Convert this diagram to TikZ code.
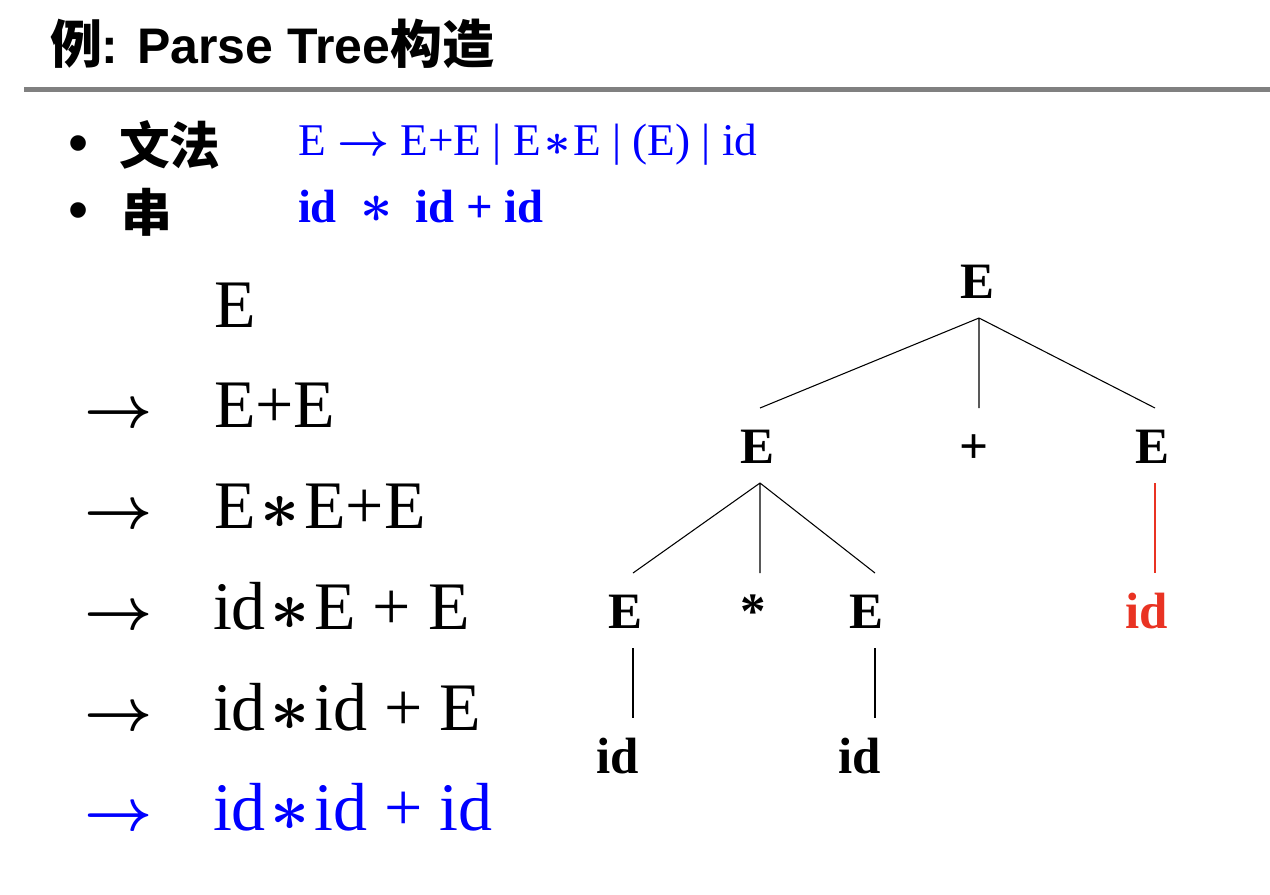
\documentclass[tikz,border=0pt]{standalone}
\usepackage{fix-cm}
\usepackage{fontspec}
\setmainfont{Liberation Serif}
\newfontfamily\cjkfont{Noto Sans CJK SC}
\newfontfamily\titlefont{Liberation Sans}
\usepackage{xcolor}
\usepackage{tikz}

\definecolor{gblue}{RGB}{0,0,255}
\definecolor{idred}{RGB}{233,51,35}
\definecolor{rulegray}{RGB}{128,128,128}

\newcommand{\mul}{\hspace{0.07em}{\boldmath$\ast$}\hspace{0.07em}}
\newcommand{\derives}{{\boldmath$\rightarrow$}}

\begin{document}
\begin{tikzpicture}[x=0.75pt, y=-0.75pt,
  every node/.style={inner sep=0pt, outer sep=0pt},
  bigrow/.style={anchor=base west, font=\fontsize{51}{60}\selectfont},
  arr/.style={anchor=base west, font=\fontsize{44.5}{52}\selectfont},
  gram/.style={anchor=base west, text=gblue, font=\fontsize{34}{40}\selectfont},
  cjkhead/.style={anchor=base west, font=\cjkfont\bfseries\fontsize{38}{44}\selectfont},
  tnode/.style={minimum height=56.25pt, text height=26.25pt, text depth=0pt,
    font=\fontsize{38.25}{44}\selectfont\bfseries},
  tx/.style={execute at begin node={\hspace*{-#1}}, execute at end node={\hspace*{#1}}},
  edge/.style={draw=black, line width=0.8pt}]
  \useasboundingbox (0,0) rectangle (1270,894);
  % title and rule
  \node[anchor=base west] (title) at (50,63)
    {{\cjkfont\bfseries\fontsize{39}{44}\selectfont 例}{\titlefont\bfseries\fontsize{37.5}{44}\selectfont : Parse Tree}{\cjkfont\bfseries\fontsize{39}{44}\selectfont 构造}};
  \fill[rulegray] (24,87) rectangle (1270,92);
  % grammar and string
  \node[anchor=base, font=\titlefont\fontsize{43}{48}\selectfont] (dot1) at (79,162) {\textbullet};
  \node[anchor=base, font=\titlefont\fontsize{43}{48}\selectfont] (dot2) at (79,229) {\textbullet};
  \node[cjkhead] (wenfa) at (119,164) {文法};
  \node[cjkhead] (chuan) at (121,231) {串};
  \node[gram] (rule) at (298,155) {E \derives\ E+E | E\mul E | (E) | id};
  \node[gram, font=\fontsize{35}{40}\selectfont\bfseries] (input) at (298,222)
    {id\hspace{0.5em}\scalebox{1.2}{\boldmath$\ast$}\hspace{0.5em}id + id};
  % derivation
  \node[bigrow] (d0) at (214,327) {E};
  \node[arr] (a1) at (84,427) {\derives};
  \node[bigrow] (d1) at (214,427) {E+E};
  \node[arr] (a2) at (84,528) {\derives};
  \node[bigrow] (d2) at (214,528) {E\mul E+E};
  \node[arr] (a3) at (84,629) {\derives};
  \node[bigrow] (d3) at (213,629) {id\mul E + E};
  \node[arr] (a4) at (84,730) {\derives};
  \node[bigrow] (d4) at (213,730) {id\mul id + E};
  \node[arr, text=gblue] (a5) at (84,830) {\derives};
  \node[bigrow, text=gblue] (d5) at (213,830) {id\mul id + id};
  % parse tree
  \node[tnode, tx=1.5pt] (root) at (979,280.5) {E};
  \node[tnode, tx=2.25pt] (e1) at (760,445.5) {E};
  \node[tnode, tx=3.75pt] (plus) at (979,445.5) {+};
  \node[tnode, tx=2.25pt] (e2) at (1155,445.5) {E};
  \node[tnode, tx=6pt] (e3) at (633,610.5) {E};
  \node[tnode, tx=5.25pt] (star) at (760,610.5) {*};
  \node[tnode, tx=6.4pt] (e4) at (875,610.5) {E};
  \node[tnode, tx=6.4pt, text=idred] (idr) at (1155,610.5) {id};
  \node[tnode, tx=11.25pt] (ida) at (633,755.5) {id};
  \node[tnode, tx=11.6pt] (idb) at (875,755.5) {id};
  \draw[edge] (root.south) -- (e1.north) (root.south) -- (plus.north) (root.south) -- (e2.north);
  \draw[edge] (e1.south) -- (e3.north) (e1.south) -- (star.north) (e1.south) -- (e4.north);
  \draw[edge, draw=idred] (e2.south) -- (idr.north);
  \draw[edge] (e3.south) -- (ida.north) (e4.south) -- (idb.north);
\end{tikzpicture}
\end{document}
